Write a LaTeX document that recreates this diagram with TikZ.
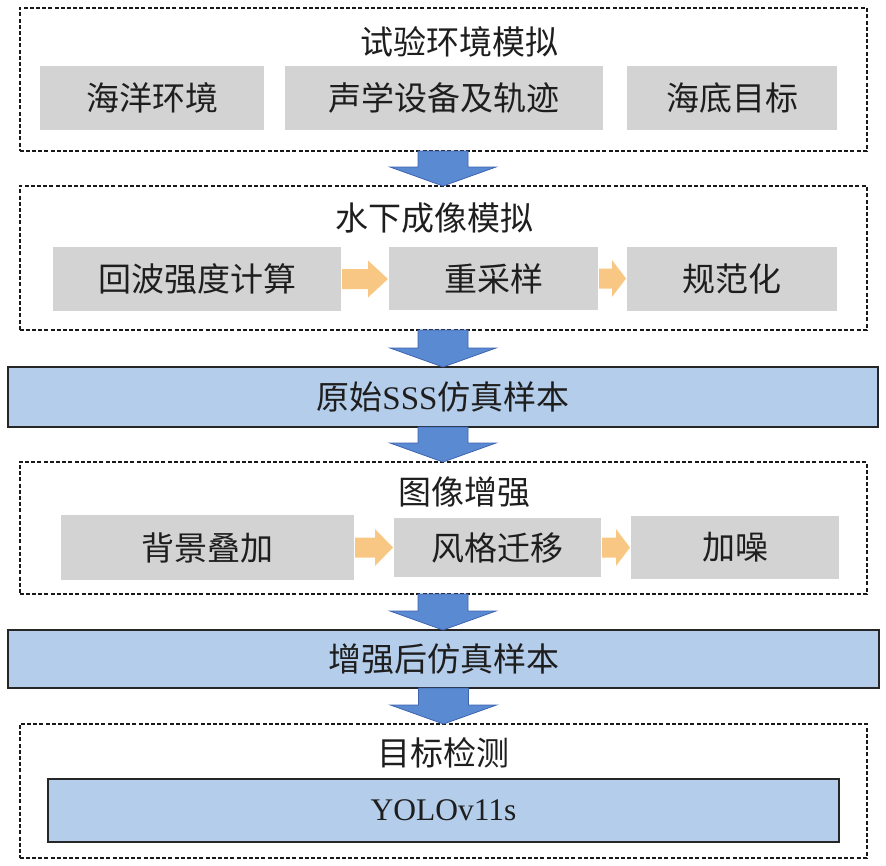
\documentclass[tikz,border=0pt]{standalone}
\usepackage{fontspec}
\setmainfont{Liberation Serif}
\newfontfamily\cjk{Noto Sans CJK SC}
\usetikzlibrary{calc}
\definecolor{boxgray}{HTML}{D3D3D3}
\definecolor{boxblue}{HTML}{B4CDEB}
\definecolor{arrblue}{HTML}{5A8AD2}
\definecolor{arrblueedge}{HTML}{3E64B0}
\definecolor{arrorange}{HTML}{F9C784}
\definecolor{txt}{HTML}{1E1E1E}
\newcommand{\bluearrow}[2]{%
  \path[fill=arrblue, draw=arrblueedge, line width=0.8pt] let \p1=(#1.south), \p2=(#2.north) in
  (\x1-25pt,\y1) -- (\x1+25pt,\y1) -- (\x1+25pt,\y2+19pt) -- (\x1+53pt,\y2+19pt) -- (\x1,\y2)
  -- (\x1-53pt,\y2+19pt) -- (\x1-25pt,\y2+19pt) -- cycle;}
\newcommand{\orangearrow}[3]{%
  \fill[arrorange] let \p1=(#1.east), \p2=(#2.west) in
  (\x1+1pt,\y1-10pt) -- (\x2-#3pt,\y1-10pt) -- (\x2-#3pt,\y1-18.5pt) -- (\x2-1pt,\y1)
  -- (\x2-#3pt,\y1+18.5pt) -- (\x2-#3pt,\y1+10pt) -- (\x1+1pt,\y1+10pt) -- cycle;}
\begin{document}
\begin{tikzpicture}[x=1pt,y=-1pt,
  frame/.style={draw=black!90, line width=2pt, dash pattern=on 4pt off 2.2pt, anchor=north west, inner sep=0pt, outer sep=0pt},
  graybox/.style={fill=boxgray, draw=none, inner sep=0pt, outer sep=0pt, anchor=north west, text=txt, font=\cjk\fontsize{33}{38}\selectfont},
  bluebox/.style={fill=boxblue, draw=black!85, line width=2pt, inner sep=0pt, outer sep=0pt, anchor=north west, text=txt, font=\cjk\fontsize{33}{38}\selectfont},
  lbl/.style={font=\cjk\fontsize{33}{38}\selectfont, text=txt, inner sep=0pt},
]
\useasboundingbox (0,0) rectangle (886,865);
% frames
\node[frame, minimum width=847pt, minimum height=143pt] (f1) at (19.5,8) {};
\node[frame, minimum width=847pt, minimum height=144pt] (f2) at (19.5,186) {};
\node[frame, minimum width=847pt, minimum height=132pt] (f3) at (19.5,462) {};
\node[frame, minimum width=847pt, minimum height=134pt] (f4) at (19.5,724) {};
% titles
\node[lbl] (t1) at (459,42) {试验环境模拟};
\node[lbl] (t2) at (434,218) {水下成像模拟};
\node[lbl] (t3) at (464,492) {图像增强};
\node[lbl] (t4) at (443,753) {目标检测};
% row 1
\node[graybox, minimum width=224pt, minimum height=64pt] (g11) at (40,66) {海洋环境};
\node[graybox, minimum width=318pt, minimum height=64pt] (g12) at (285,66) {声学设备及轨迹};
\node[graybox, minimum width=210pt, minimum height=64pt] (g13) at (627,66) {海底目标};
% row 2
\node[graybox, minimum width=288pt, minimum height=64pt] (g21) at (53,247) {回波强度计算};
\node[graybox, minimum width=209pt, minimum height=63pt] (g22) at (389,247) {重采样};
\node[graybox, minimum width=210pt, minimum height=64pt] (g23) at (627,247) {规范化};
% blue 1
\node[bluebox, minimum width=870pt, minimum height=60pt] (b1) at (8,367) {原始{\rmfamily SSS}仿真样本};
% row 3
\node[graybox, minimum width=293pt, minimum height=65pt] (g31) at (61,515) {背景叠加};
\node[graybox, minimum width=207pt, minimum height=59pt] (g32) at (394,518) {风格迁移};
\node[graybox, minimum width=208pt, minimum height=63pt] (g33) at (631,516) {加噪};
% blue 2
\node[bluebox, minimum width=871pt, minimum height=58pt] (b2) at (8,630) {增强后仿真样本};
% yolo
\node[bluebox, minimum width=791pt, minimum height=63pt, font=\rmfamily\fontsize{31.5}{36}\selectfont] (b3) at (48,779) {YOLOv11s};
% blue arrows
\bluearrow{f1}{f2}
\bluearrow{f2}{b1}
\bluearrow{b1}{f3}
\bluearrow{f3}{b2}
\bluearrow{b2}{f4}
% orange arrows
\orangearrow{g21}{g22}{21}
\orangearrow{g22}{g23}{15}
\orangearrow{g31}{g32}{19}
\orangearrow{g32}{g33}{15}
\end{tikzpicture}
\end{document}
